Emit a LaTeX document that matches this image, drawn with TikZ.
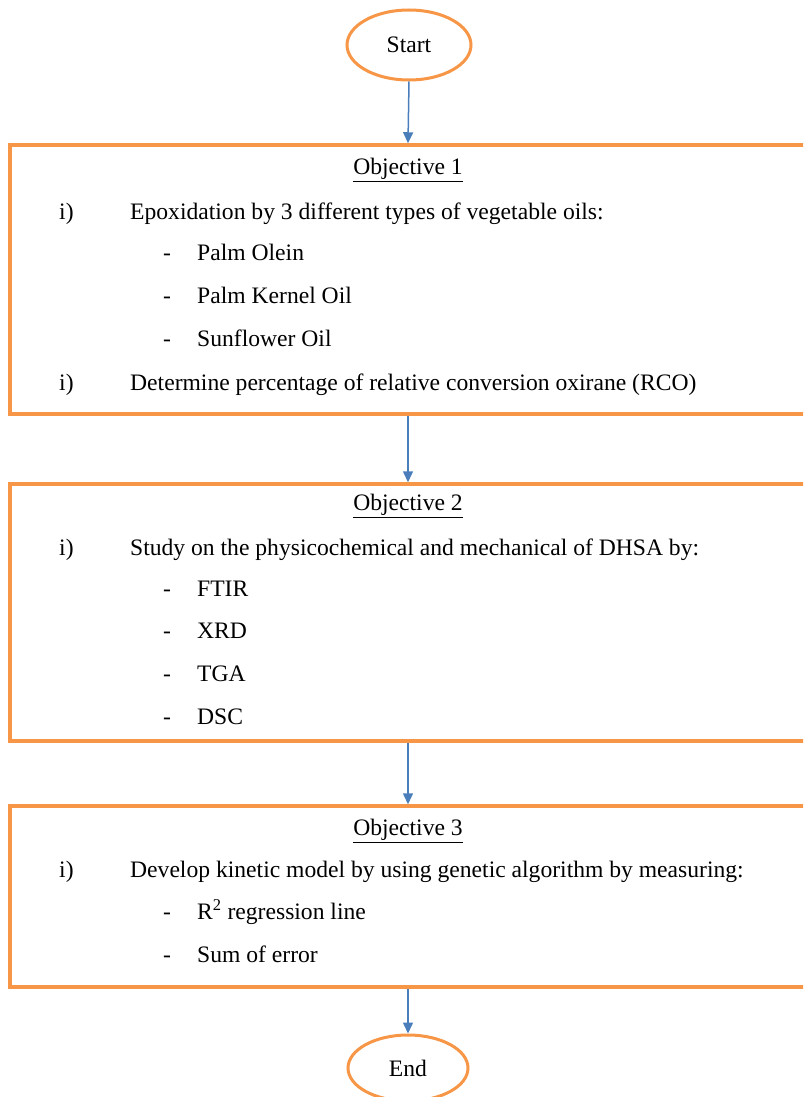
\documentclass[tikz,border=0pt]{standalone}
\usepackage{fontspec}
\setmainfont{Liberation Serif}
\usetikzlibrary{shapes.geometric,arrows.meta}
\definecolor{boxorange}{HTML}{F79646}
\definecolor{arrowblue}{HTML}{4A7EBB}
\begin{document}
\begin{tikzpicture}[x=1pt,y=-1pt,
  objbox/.style={draw=boxorange, line width=3.5pt, rectangle, minimum width=796pt, inner sep=0pt},
  term/.style={draw=boxorange, line width=3pt, ellipse, inner sep=0pt, font=\fontsize{23.6}{28}\selectfont},
  txt/.style={anchor=west, inner sep=0pt, text height=15.5pt, text depth=0pt, font=\fontsize{23.6}{28}\selectfont},
  head/.style={anchor=center, inner sep=0pt, text height=15.5pt, text depth=0pt, font=\fontsize{23.6}{28}\selectfont},
  flow/.style={draw=arrowblue, line width=1.5pt, -{Triangle[width=10pt,length=11pt]}}
]
\useasboundingbox (0,0) rectangle (803,1097);
\clip (0,0) rectangle (803,1097);

% terminals
\node[term, minimum width=124pt, minimum height=70pt] (start) at (409,45) {Start};
\node[term, minimum width=120pt, minimum height=66pt] (stop) at (408,1068) {End};

% boxes
\node[objbox, minimum height=269pt] (b1) at (408,279.5) {};
\node[objbox, minimum height=257pt] (b2) at (408,612.5) {};
\node[objbox, minimum height=181pt] (b3) at (408,896.5) {};

% box 1 text
\node[head] (o1) at (408,167) {\underline{Objective 1}};
\node[txt] (o1n1) at (59,212) {i)};
\node[txt] (o1t1) at (130,212) {Epoxidation by 3 different types of vegetable oils:};
\node[txt] (o1d1) at (163,253) {-};
\node[txt] (o1a) at (197,253) {Palm Olein};
\node[txt] (o1d2) at (163,296) {-};
\node[txt] (o1b) at (197,296) {Palm Kernel Oil};
\node[txt] (o1d3) at (163,339) {-};
\node[txt] (o1c) at (197,339) {Sunflower Oil};
\node[txt] (o1n2) at (59,383) {i)};
\node[txt] (o1t2) at (130,383) {Determine percentage of relative conversion oxirane (RCO)};

% box 2 text
\node[head] (o2) at (408,503) {\underline{Objective 2}};
\node[txt] (o2n1) at (59,548) {i)};
\node[txt] (o2t1) at (130,548) {Study on the physicochemical and mechanical of DHSA by:};
\node[txt] (o2d1) at (163,589) {-};
\node[txt] (o2a) at (197,589) {FTIR};
\node[txt] (o2d2) at (163,631) {-};
\node[txt] (o2b) at (197,631) {XRD};
\node[txt] (o2d3) at (163,674) {-};
\node[txt] (o2c) at (197,674) {TGA};
\node[txt] (o2d4) at (163,717) {-};
\node[txt] (o2e) at (197,717) {DSC};

% box 3 text
\node[head] (o3) at (408,828) {\underline{Objective 3}};
\node[txt] (o3n1) at (59,870) {i)};
\node[txt] (o3t1) at (130,870) {Develop kinetic model by using genetic algorithm by measuring:};
\node[txt] (o3d1) at (163,912) {-};
\node[txt] (o3a) at (197,912) {R\textsuperscript{2} regression line};
\node[txt] (o3d2) at (163,955) {-};
\node[txt] (o3b) at (197,955) {Sum of error};

% connectors
\draw[flow] (start.south) -- (b1.north);
\draw[flow] (b1.south) -- (b2.north);
\draw[flow] (b2.south) -- (b3.north);
\draw[flow] (b3.south) -- (stop.north);
\end{tikzpicture}
\end{document}
